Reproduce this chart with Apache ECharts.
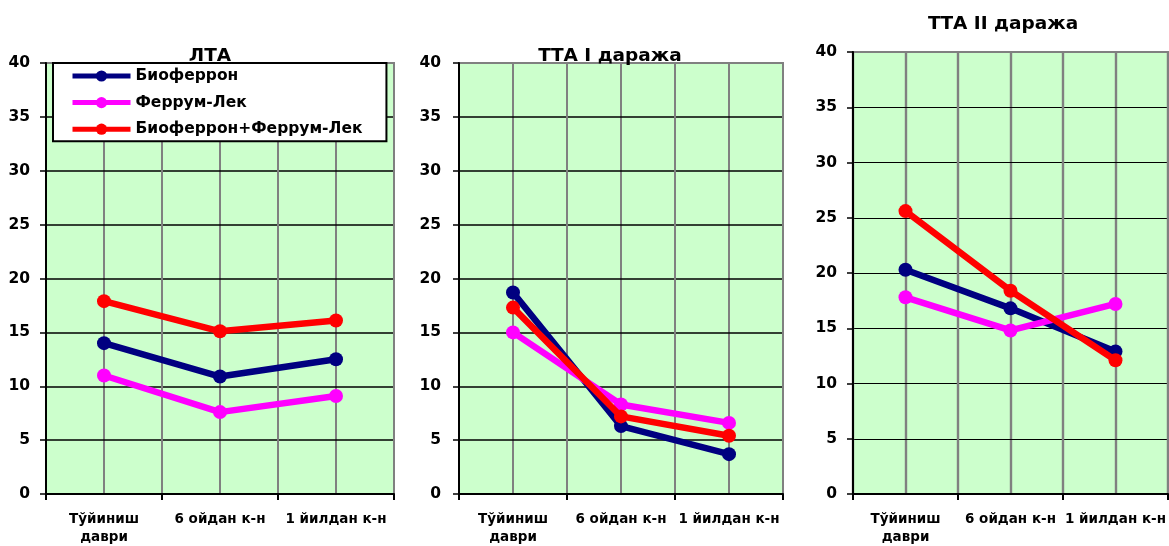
<!DOCTYPE html>
<html>
<head>
<meta charset="utf-8">
<title>ЛТА / ТТА</title>
<script src="https://cdn.jsdelivr.net/npm/echarts@6/dist/echarts.min.js"></script>
<style>
  html, body { margin: 0; padding: 0; background: #ffffff; }
  #chart { width: 1169px; height: 546px; }
</style>
</head>
<body>
<div id="chart"></div>
<script>
// Time points along the x axis
const categories = ['Тўйиниш\nдаври', '6 ойдан к-н', '1 йилдан к-н'];
const seriesNames = ['Биоферрон', 'Феррум-Лек', 'Биоферрон+Феррум-Лек'];
const panelTitles = ['ЛТА', 'ТТА I даража', 'ТТА II даража'];
const yTicks = [0, 5, 10, 15, 20, 25, 30, 35, 40];

// ЛТА
const ltaBioferron = [14.0, 10.9, 12.5];
const ltaFerrumLek = [11.0, 7.6, 9.1];
const ltaCombined = [17.9, 15.1, 16.1];

// ТТА I даража
const tta1Bioferron = [18.7, 6.3, 3.7];
const tta1FerrumLek = [15.0, 8.3, 6.6];
const tta1Combined = [17.3, 7.2, 5.4];

// ТТА II даража
const tta2Bioferron = [20.3, 16.8, 12.9];
const tta2FerrumLek = [17.8, 14.8, 17.2];
const tta2Combined = [25.6, 18.4, 12.1];

const panelData = [
  [ltaBioferron, ltaFerrumLek, ltaCombined],
  [tta1Bioferron, tta1FerrumLek, tta1Combined],
  [tta2Bioferron, tta2FerrumLek, tta2Combined]
];

const colors = ['#000080', '#FF00FF', '#FF0000'];
const FONT = '"DejaVu Sans", "Liberation Sans", Arial, sans-serif';

const grids = [
  { left: 46, top: 63, width: 348, height: 433 },
  { left: 459, top: 63, width: 324, height: 433 },
  { left: 853, top: 52, width: 318, height: 445.5 }
];
const hLineWidth = [1.6, 1.6, 1];
const vLineWidth = [2, 2, 2.4];
const yLabelMargin = [16, 18, 16];

const catIdx = categories.map((_, i) => i);
const boundaries = [-0.5, 0.5, 1.5, 2.5];

const xAxes = [];
grids.forEach((g, i) => {
  // main axis: category boundaries, ticks and labels
  xAxes.push({
    type: 'value',
    gridIndex: i,
    position: 'bottom',
    min: -0.5,
    max: 2.5,
    interval: 0.5,
    axisLine: { show: true, onZero: false, lineStyle: { color: '#000', width: 2 } },
    axisTick: {
      show: true, length: 6, inside: false,
      customValues: boundaries,
      lineStyle: { color: '#000', width: 2 }
    },
    axisLabel: {
      customValues: catIdx,
      formatter: v => categories[Math.round(v)] || '',
      margin: 16,
      fontFamily: FONT, fontSize: 13.5, fontWeight: 'bold', color: '#000',
      lineHeight: 18, align: 'center'
    },
    splitLine: { show: true, lineStyle: { color: '#808080', width: vLineWidth[i] } },
    z: 5
  });
});
grids.forEach((g, i) => {
  // helper axis: vertical grid lines through the category centres
  xAxes.push({
    type: 'value',
    gridIndex: i,
    position: 'bottom',
    offset: 0,
    min: -0.5,
    max: 2.5,
    interval: 0.5,
    axisLine: { show: false, onZero: false },
    axisTick: { show: false, customValues: catIdx },
    axisLabel: { show: false, customValues: catIdx },
    splitLine: { show: true, lineStyle: { color: '#808080', width: vLineWidth[i] } }
  });
});

const option = {
  backgroundColor: '#ffffff',
  animation: false,
  title: [
    { text: panelTitles[0], left: 205, top: 42, textAlign: 'center' },
    { text: panelTitles[1], left: 605, top: 42, textAlign: 'center' },
    { text: panelTitles[2], left: 998, top: 10, textAlign: 'center' }
  ].map(t => Object.assign(t, {
    textStyle: { fontFamily: FONT, fontSize: 18.5, fontWeight: 'bold', color: '#000' }
  })),
  legend: {
    data: seriesNames,
    orient: 'vertical',
    left: 53,
    top: 63,
    backgroundColor: '#ffffff',
    borderColor: '#000000',
    borderWidth: 2,
    borderRadius: 0,
    padding: [5, 24, 4, 17],
    itemWidth: 58,
    itemHeight: 14,
    itemGap: 10.6,
    z: 20,
    lineStyle: { width: 5 },
    textStyle: { fontFamily: FONT, fontSize: 15.5, fontWeight: 'bold', color: '#000' }
  },
  grid: grids.map(g => Object.assign({}, g, {
    show: true,
    backgroundColor: '#CCFFCC',
    borderColor: '#808080',
    borderWidth: 2
  })),
  xAxis: xAxes,
  yAxis: grids.map((g, i) => ({
    type: 'value',
    gridIndex: i,
    min: yTicks[0],
    max: yTicks[yTicks.length - 1],
    interval: yTicks[1] - yTicks[0],
    axisLine: { show: true, onZero: false, lineStyle: { color: '#000', width: 2 } },
    axisTick: { show: true, length: 6, lineStyle: { color: '#000', width: 1.5 } },
    axisLabel: {
      margin: yLabelMargin[i],
      fontFamily: FONT, fontSize: 15.5, fontWeight: 'bold', color: '#000'
    },
    splitLine: { show: true, showMaxLine: false, lineStyle: { color: '#000', width: hLineWidth[i] } },
    z: 5
  })),
  series: []
};

panelData.forEach((sets, p) => {
  sets.forEach((vals, s) => {
    option.series.push({
      name: seriesNames[s],
      type: 'line',
      xAxisIndex: p,
      yAxisIndex: p,
      data: vals.map((v, k) => [catIdx[k], v]),
      color: colors[s],
      symbol: 'circle',
      symbolSize: 14,
      lineStyle: { width: 6.5, color: colors[s] },
      itemStyle: { color: colors[s] },
      z: 6 + s
    });
  });
});

const chart = echarts.init(document.getElementById('chart'), null, { renderer: 'canvas' });
chart.setOption(option);
</script>
</body>
</html>
